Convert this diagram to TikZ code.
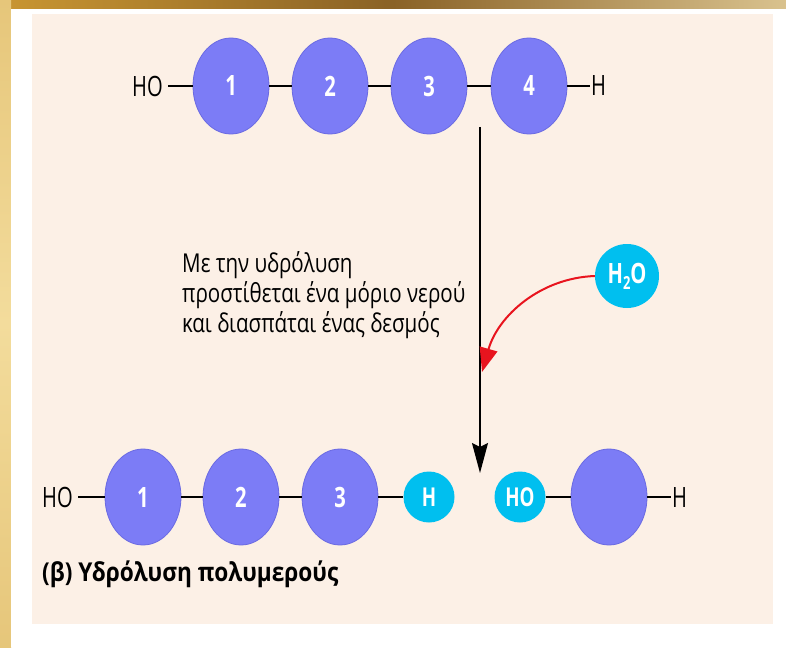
\documentclass[tikz,border=0pt]{standalone}
\usepackage{fontspec}
\setmainfont{Open Sans}[FakeStretch=0.79]
\newfontfamily\condfont{Open Sans}[FakeStretch=0.72]
\newfontfamily\capfont{Open Sans}[FakeStretch=0.87]
\usetikzlibrary{arrows.meta,shapes.geometric}
\definecolor{panel}{HTML}{FCF0E6}
\definecolor{mono}{HTML}{7C7CF6}
\definecolor{monoedge}{HTML}{6A6AE2}
\definecolor{cyanb}{HTML}{00BFEF}
\definecolor{goldA}{HTML}{C99632}
\definecolor{goldB}{HTML}{8A6226}
\definecolor{goldC}{HTML}{D9C28E}
\definecolor{goldL}{HTML}{F3DC9C}
\definecolor{goldM}{HTML}{E6C67A}
\definecolor{redarr}{HTML}{E8141E}
\tikzset{
  monomer/.style={ellipse, fill=mono, draw=monoedge, line width=0.8pt, minimum width=76pt, minimum height=96pt, inner sep=0pt, text=white, font=\condfont\fontsize{28}{28}\selectfont\bfseries},
  cyanball/.style={circle, fill=cyanb, minimum size=51pt, inner sep=0pt, text=white, font=\condfont\fontsize{26}{26}\selectfont\bfseries},
  chemtxt/.style={inner sep=0pt, font=\condfont\fontsize{28}{28}\selectfont},
  bodytxt/.style={anchor=base west, inner sep=0pt, font=\fontsize{26}{26}\selectfont},
  bond/.style={line width=1.6pt, black},
}
\begin{document}
\begin{tikzpicture}[x=1pt,y=-1pt]
\useasboundingbox (0,0) rectangle (786,647);
% background
\shade[left color=goldA, right color=goldC, middle color=goldB] (0,0) rectangle (786,10);
\shade[top color=goldM, bottom color=goldM, middle color=goldL] (0,0) rectangle (11,647);
\fill[white] (11,9) rectangle (786,647);
\fill[panel] (32,14) rectangle (773,624);
% top chain
\node[chemtxt, anchor=east] (tHO) at (163,86) {HO};
\node[monomer] (t1) at (231,86) {1};
\node[monomer] (t2) at (330,86) {2};
\node[monomer] (t3) at (429,86) {3};
\node[monomer] (t4) at (529,86) {4};
\node[chemtxt, anchor=west] (tH) at (591,86) {H};
\draw[bond] ([xshift=5pt]tHO.east) -- (t1.west);
\draw[bond] (t1) -- (t2);
\draw[bond] (t2) -- (t3);
\draw[bond] (t3) -- (t4);
\draw[bond] (t4.east) -- ([xshift=-1pt]tH.west);
% vertical arrow
\coordinate (vtop) at (480,127);
\coordinate (vbot) at (480,473);
\draw[line width=1.4pt, -{Stealth[length=30pt,width=16pt,inset=4pt]}] (vtop) -- (vbot);
% text
\node[bodytxt] (txt1) at (182,272) {Με την υδρόλυση};
\node[bodytxt] (txt2) at (182,302) {προστίθεται ένα μόριο νερού};
\node[bodytxt] (txt3) at (182,332) {και διασπάται ένας δεσμός};
% water
\node[cyanball, minimum size=64pt, font=\condfont\fontsize{28}{28}\selectfont\bfseries] (h2o) at (627,276) {H\raisebox{-0.4ex}{\fontsize{18}{18}\selectfont 2}O};
\coordinate (rtip) at (482,372);
\draw[redarr, line width=2pt, -{Triangle[length=24pt,width=18pt]}] (h2o.west) .. controls (540,278) and (498,316) .. (rtip);
% bottom chain
\node[chemtxt, anchor=east] (bHO) at (73,497) {HO};
\node[monomer] (b1) at (143,497) {1};
\node[monomer] (b2) at (241,497) {2};
\node[monomer] (b3) at (340,497) {3};
\node[cyanball] (bH) at (429,497) {H};
\node[cyanball] (bOH) at (520,497) {HO};
\node[monomer] (b4) at (609,497) {};
\node[chemtxt, anchor=west] (bHe) at (672,497) {H};
\draw[bond] ([xshift=5pt]bHO.east) -- (b1.west);
\draw[bond] (b1) -- (b2);
\draw[bond] (b2) -- (b3);
\draw[bond] (b3) -- (bH);
\draw[bond] (bOH) -- (b4);
\draw[bond] (b4.east) -- ([xshift=-1pt]bHe.west);
% caption
\node[anchor=base west, inner sep=0pt, font=\capfont\fontsize{26}{26}\selectfont\bfseries] (cap) at (42,581) {(β) Υδρόλυση πολυμερούς};
\end{tikzpicture}
\end{document}
